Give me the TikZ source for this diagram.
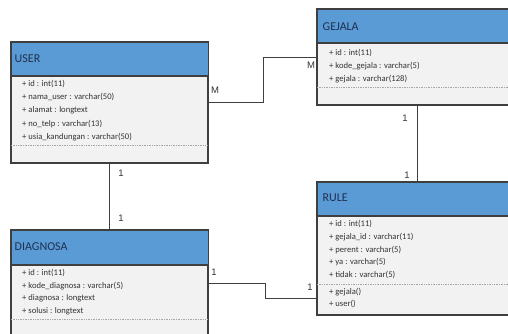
\documentclass[tikz,border=0pt]{standalone}
\usepackage{fontspec}
\setmainfont{Carlito}
\newfontfamily\labelfont{Liberation Sans}
\definecolor{hdrblue}{HTML}{5B9BD5}
\definecolor{bodygray}{HTML}{F2F2F2}
\definecolor{edge}{HTML}{3F3F3F}
\definecolor{hdrtext}{HTML}{1F3050}
\definecolor{rowtext}{HTML}{333333}
\begin{document}
\begin{tikzpicture}[x=1pt,y=-1pt,
  classbox/.style={draw=edge, line width=1.1pt, fill=bodygray, rectangle,
    anchor=north west, inner sep=0pt},
  headtext/.style={anchor=west, inner sep=0pt, text=hdrtext, font=\fontsize{12}{14}\selectfont},
  row/.style={anchor=west, inner sep=0pt, text=rowtext, font=\fontsize{8.6}{10}\selectfont},
  sep/.style={draw=gray!70, line width=0.9pt, dash pattern=on 1pt off 0.7pt},
  link/.style={draw=edge, line width=1pt},
  mult/.style={inner sep=0pt, text=black!80, font=\labelfont\fontsize{9.5}{11}\selectfont}]
\useasboundingbox (0,0) rectangle (508,333);
\clip (0,0) rectangle (508,333);

% class boxes
\node[classbox, minimum width=196pt, minimum height=120pt] (user) at (11,42) {};
\node[classbox, minimum width=200pt, minimum height=95pt] (gejala) at (317,9) {};
\node[classbox, minimum width=196pt, minimum height=115pt] (diagnosa) at (11,230) {};
\node[classbox, minimum width=200pt, minimum height=132pt] (rule) at (317,182) {};

% blue headers
\foreach \c/\h in {user/34, gejala/34, diagnosa/35, rule/34} {
  \fill[hdrblue] (\c.north west) rectangle ([yshift=-\h pt]\c.north east);
  \draw[edge, line width=1.1pt] ([yshift=-\h pt]\c.north west) -- ([yshift=-\h pt]\c.north east);
  \draw[edge, line width=1.1pt] (\c.north west) rectangle (\c.south east);
}

% header titles
\node[headtext] (user-t) at (14.5,59) {USER};
\node[headtext] (gejala-t) at (322.5,27) {GEJALA};
\node[headtext] (diagnosa-t) at (14.5,247) {DIAGNOSA};
\node[headtext] (rule-t) at (322.5,198) {RULE};

% attributes
\foreach \t [count=\i] in {{+ id : int(11)}, {+ nama\_user : varchar(50)}, {+ alamat : longtext},
    {+ no\_telp : varchar(13)}, {+ usia\_kandungan : varchar(50)}}
  \node[row] (user-r\i) at (22,{84+13.2*(\i-1)}) {\t};
\foreach \t [count=\i] in {{+ id : int(11)}, {+ kode\_gejala : varchar(5)}, {+ gejala : varchar(128)}}
  \node[row] (gejala-r\i) at (329,{53+13*(\i-1)}) {\t};
\foreach \t [count=\i] in {{+ id : int(11)}, {+ kode\_diagnosa : varchar(5)}, {+ diagnosa : longtext},
    {+ solusi : longtext}}
  \node[row] (diagnosa-r\i) at (22,{273+12.8*(\i-1)}) {\t};
\foreach \t [count=\i] in {{+ id : int(11)}, {+ gejala\_id : varchar(11)}, {+ perent : varchar(5)},
    {+ ya : varchar(5)}, {+ tidak : varchar(5)}}
  \node[row] (rule-r\i) at (329,{224+12.8*(\i-1)}) {\t};
\node[row] (rule-m1) at (329,292) {+ gejala()};
\node[row] (rule-m2) at (329,303.5) {+ user()};

% compartment separators
\draw[sep] ([yshift=-103pt]user.north west) -- ([yshift=-103pt]user.north east);
\draw[sep] ([yshift=-78pt]gejala.north west) -- ([yshift=-78pt]gejala.north east);
\draw[sep] ([yshift=-89pt]diagnosa.north west) -- ([yshift=-89pt]diagnosa.north east);
\draw[sep] ([yshift=-102pt]rule.north west) -- ([yshift=-102pt]rule.north east);

% association end points
\coordinate (ug-a) at ([yshift=-60pt]user.north east);
\coordinate (ug-b) at ([yshift=-48pt]gejala.north west);
\coordinate (dr-a) at ([yshift=-53pt]diagnosa.north east);
\coordinate (dr-b) at ([yshift=-116pt]rule.north west);
\coordinate (ug) at (263,0);
\coordinate (dr) at (265,0);

% associations
\draw[link] (ug-a) -| (ug |- ug-b) -- (ug-b);
\draw[link] (user.south) -- (diagnosa.north);
\draw[link] (gejala.south) -- (rule.north);
\draw[link] (dr-a) -| (dr |- dr-b) -- (dr-b);

% multiplicities
\node[mult] (m-ug1) at (215,90) {M};
\node[mult] (m-ug2) at (311,65) {M};
\node[mult] (m-ud1) at (121,173) {1};
\node[mult] (m-ud2) at (121,218) {1};
\node[mult] (m-gr1) at (405,118) {1};
\node[mult] (m-gr2) at (407,175) {1};
\node[mult] (m-dr1) at (214,272) {1};
\node[mult] (m-dr2) at (310,287) {1};
\end{tikzpicture}
\end{document}
